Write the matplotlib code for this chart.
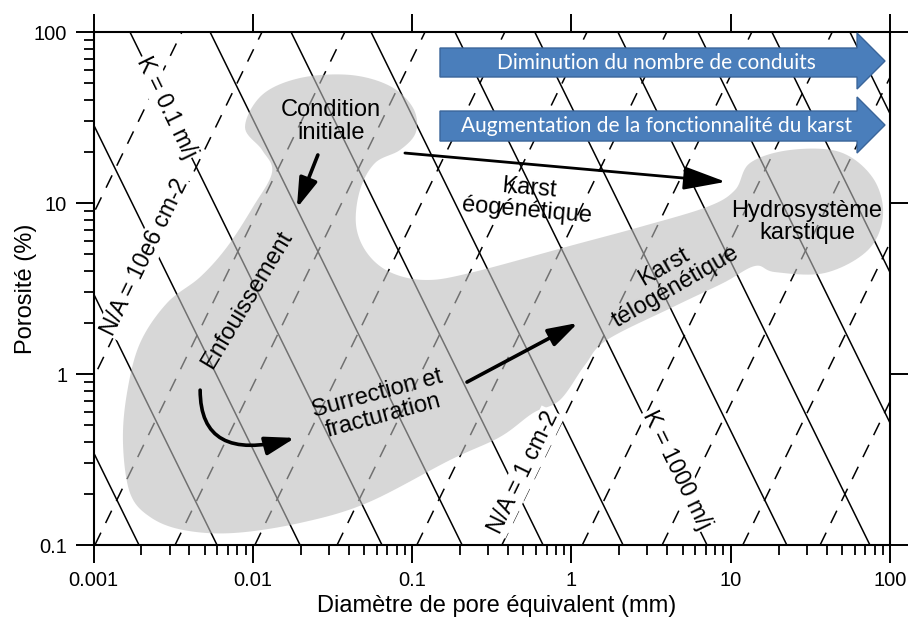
import numpy as np
import matplotlib
matplotlib.use("Agg")
import matplotlib.pyplot as plt
import matplotlib.patches as mpatches
from matplotlib.ticker import FixedLocator, FixedFormatter, LogLocator, NullFormatter

plt.rcParams['font.family'] = ['Liberation Sans', 'DejaVu Sans']

# Axis ranges and ticks
d_lim = (0.001, 100)      # pore diameter (mm)
phi_lim = (0.1, 100)      # porosity (%)
x_ticks = [0.001, 0.01, 0.1, 1, 10, 100]
x_tick_labels = ["0.001", "0.01", "0.1", "1", "10", "100"]
y_ticks = [0.1, 1, 10, 100]
y_tick_labels = ["0.1", "1", "10", "100"]

# Iso-permeability lines (solid): diameter where each line crosses porosity = 0.1 %
k_line_d = [0.00193, 0.00596, 0.0198, 0.0647, 0.206, 0.664, 2.11, 7.10,
            22.5, 74.8, 238, 693, 2140]
k_slope = -1.896
# Iso conduit density lines (dashed): diameter where each line crosses porosity = 0.1 %
na_line_d = [9.68e-5, 3.08e-4, 1.02e-3, 3.25e-3, 1.03e-2, 3.38e-2, 0.107,
             0.366, 1.17, 3.71, 11.9, 36.4]
na_slope = 1.912

# Outline of the grey evolution domain (log10 of diameter, log10 of porosity)
blob_log_d = [-2.049, -1.942, -1.704, -1.390, -1.139, -0.994, -0.976, -1.076,
              -1.233, -1.327, -1.352, -1.283, -1.139, -0.919, -0.637, 0.010,
              0.431, 0.851, 1.027, 1.121, 1.372, 1.686, 1.893, 1.956, 1.862,
              1.592, 1.278, 1.153, 0.952, 0.638, 0.223, 0.085, -0.072, -0.241,
              -0.448, -0.762, -1.283, -1.704, -2.124, -2.438, -2.645, -2.771,
              -2.815, -2.790, -2.708, -2.539, -2.331, -2.162, -1.999, -1.879,
              -1.942]
blob_log_phi = [1.444, 1.632, 1.731, 1.749, 1.684, 1.556, 1.415, 1.310,
                1.234, 1.076, 0.871, 0.708, 0.596, 0.550, 0.591, 0.754,
                0.860, 0.977, 1.076, 1.234, 1.310, 1.298, 1.146, 0.930, 0.725,
                0.591, 0.596, 0.632, 0.532, 0.392, 0.199, 0.053, -0.152, -0.228,
                -0.368, -0.503, -0.754, -0.871, -0.930, -0.912, -0.836, -0.696,
                -0.404, -0.111, 0.181, 0.415, 0.567, 0.743, 0.977, 1.181,
                1.310]


def smooth_closed(xs, ys, n=12):
    # closed Catmull-Rom curve through the outline points
    p = np.column_stack([xs, ys])
    m = len(p)
    t = np.linspace(0, 1, n, endpoint=False)[:, None]
    out = []
    for i in range(m):
        p0, p1, p2, p3 = p[i - 1], p[i], p[(i + 1) % m], p[(i + 2) % m]
        seg = 0.5 * (2 * p1 + (-p0 + p2) * t
                     + (2 * p0 - 5 * p1 + 4 * p2 - p3) * t ** 2
                     + (-p0 + 3 * p1 - 3 * p2 + p3) * t ** 3)
        out.append(seg)
    return np.vstack(out)


fig = plt.figure(figsize=(9.08, 6.18), dpi=100)
ax = fig.add_axes([0.1030, 0.1181, 0.8772, 0.8301])
ax.set_xscale('log')
ax.set_yscale('log')
ax.set_xlim(*d_lim)
ax.set_ylim(*phi_lim)

# contour lines
phi_ends = np.array([0.1, 100.0])
for d0 in k_line_d:
    ax.plot(d0 * (phi_ends / 0.1) ** (1 / k_slope), phi_ends, color='black', lw=1.1, zorder=2)
for d0 in na_line_d:
    ax.plot(d0 * (phi_ends / 0.1) ** (1 / na_slope), phi_ends, color='black', lw=1.1,
            linestyle=(0, (9, 7)), zorder=2)

# grey domain laid over the lines
outline = smooth_closed(blob_log_d, blob_log_phi)
ax.fill(10 ** outline[:, 0], 10 ** outline[:, 1], color=(0.74, 0.74, 0.74),
        alpha=0.6, lw=0, zorder=3)

# line labels
lab_kw = dict(fontsize=16.5, ha='center', va='center', zorder=4,
              bbox=dict(facecolor='white', edgecolor='none', pad=1.0))
ax.text(0.00289, 36.4, "K = 0.1 m/j", rotation=-64, **lab_kw)
ax.text(4.6, 0.275, "K = 1000 m/j", rotation=-64, **lab_kw)
ax.text(0.0021, 4.83, "N/A = 10e6 cm-2", rotation=64, **lab_kw)
ax.text(0.50, 0.267, "N/A = 1 cm-2", rotation=64, **lab_kw)

# annotations
txt_kw = dict(fontsize=17, ha='center', va='center', zorder=6, linespacing=1.05)
ax.text(0.031, 30, "Condition\ninitiale", **txt_kw)
ax.text(0.0092, 2.7, "Enfouissement", rotation=59, **txt_kw)
ax.text(0.063, 0.66, "Surrection et\nfracturation", rotation=15, **txt_kw)
ax.text(0.535, 10.5, "Karst\néogénétique", rotation=-5, **txt_kw)
ax.text(4.16, 3.69, "Karst\ntélogénétique", rotation=30, **txt_kw)
ax.text(30.1, 7.74, "Hydrosystème\nkarstique", **txt_kw)

thick = dict(arrowstyle='-|>,head_length=0.9,head_width=0.28', lw=2.6,
             color='black', mutation_scale=20, shrinkA=0, shrinkB=0)
ax.annotate('', xy=(0.0189, 9.35), xytext=(0.0256, 19.1), arrowprops=thick, zorder=6)
ax.annotate('', xy=(1.10, 1.99), xytext=(0.221, 0.897), arrowprops=thick, zorder=6)
curved = dict(thick, connectionstyle='angle3,angleA=90,angleB=15')
ax.annotate('', xy=(0.0184, 0.423), xytext=(0.00467, 0.805), arrowprops=curved, zorder=6)
long_arrow = dict(arrowstyle='-|>,head_length=1.3,head_width=0.36', lw=2.0,
                  color='black', mutation_scale=20, shrinkA=0, shrinkB=0)
ax.annotate('', xy=(9.3, 13.3), xytext=(0.0901, 19.6), arrowprops=long_arrow, zorder=6)

# blue banner arrows (axes fraction)
banners = [
    ("Diminution du nombre de conduits", 0.9123, 0.9688, 0.8889, 0.998),
    ("Augmentation de la fonctionnalité du karst", 0.7875, 0.846, 0.7641, 0.8733),
]
x_left, x_head, x_tip = 0.435, 0.9586, 0.9937
for label, b0, b1, h0, h1 in banners:
    ym = (h0 + h1) / 2
    pts = [(x_left, b0), (x_head, b0), (x_head, h0), (x_tip, ym),
           (x_head, h1), (x_head, b1), (x_left, b1)]
    ax.add_patch(mpatches.Polygon(pts, closed=True, transform=ax.transAxes,
                                  facecolor='#4a7ebb', edgecolor='#3a659a',
                                  lw=1.0, zorder=7))
    ax.text(0.707, (b0 + b1) / 2, label, transform=ax.transAxes, color='white',
            fontsize=15, family=['Lato', 'DejaVu Sans'], ha='center',
            va='center', zorder=8)

# axes styling
ax.xaxis.set_major_locator(FixedLocator(x_ticks))
ax.xaxis.set_major_formatter(FixedFormatter(x_tick_labels))
ax.yaxis.set_major_locator(FixedLocator(y_ticks))
ax.yaxis.set_major_formatter(FixedFormatter(y_tick_labels))
ax.xaxis.set_minor_locator(LogLocator(base=10, subs=np.arange(2, 10)))
ax.yaxis.set_minor_locator(LogLocator(base=10, subs=np.arange(2, 10)))
ax.xaxis.set_minor_formatter(NullFormatter())
ax.yaxis.set_minor_formatter(NullFormatter())
ax.tick_params(which='major', direction='out', length=13, width=1.4,
               top=True, right=True, labelsize=14.5, pad=6)
ax.tick_params(which='minor', direction='out', length=7, width=1.3,
               top=False, right=False)
for sp in ax.spines.values():
    sp.set_linewidth(1.5)

ax.set_xlabel("Diamètre de pore équivalent (mm)", fontsize=17)
ax.xaxis.set_label_coords(0.506, -0.097)
ax.set_ylabel("Porosité (%)", fontsize=17, labelpad=-2)

fig.savefig("out.png", dpi=100)
